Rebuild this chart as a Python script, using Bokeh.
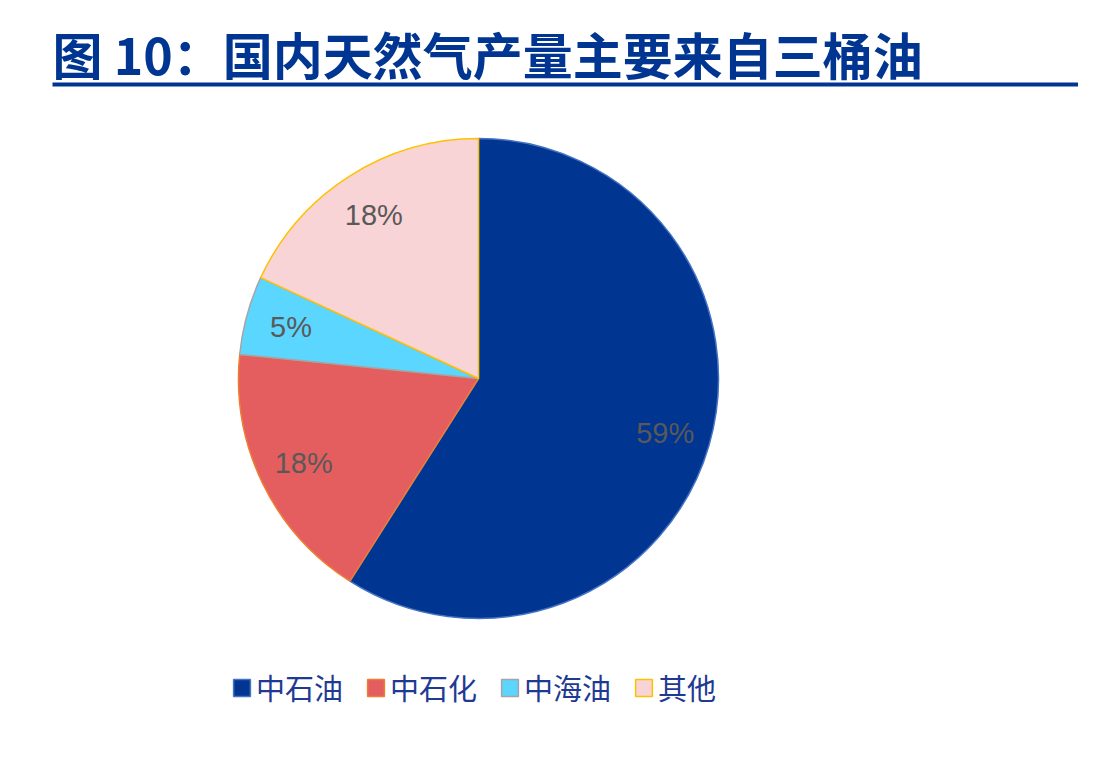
import numpy as np
from bokeh.plotting import figure
from bokeh.models import ColumnDataSource, Legend, LegendItem, Range1d
from bokeh.core.properties import value
from bokeh.embed import file_html
from bokeh.resources import INLINE

# data
companies = ["中石油", "中石化", "中海油", "其他"]
shares = [59.0, 17.6, 5.3, 18.1]
pct_labels = ["59%", "18%", "5%", "18%"]
fill_colors = ["#003591", "#E45E5F", "#5BD6FF", "#F9D4D6"]
line_colors = ["#4472C4", "#ED7D31", "#A5A5A5", "#FFC000"]
title = "图 10：国内天然气产量主要来自三桶油"

W, H = 1078, 764
p = figure(width=W, height=H, x_range=Range1d(0, W), y_range=Range1d(0, H),
           x_axis_type=None, y_axis_type=None, min_border=0,
           toolbar_location=None, output_backend="svg")
p.outline_line_color = None

# pie geometry (starts at 12 o'clock, clockwise)
cx, cy, r = 478, 386, 240
frac = np.array(shares) / sum(shares)
ends = np.cumsum(frac)
starts = ends - frac
a0 = np.pi / 2 - 2 * np.pi * starts
a1 = np.pi / 2 - 2 * np.pi * ends
mid = (a0 + a1) / 2

src = ColumnDataSource(dict(
    name=companies, start=a0, end=a1, fill=fill_colors, line=line_colors,
    label=pct_labels,
    lx=cx + 0.81 * r * np.cos(mid), ly=cy + 0.81 * r * np.sin(mid),
))

wedges = p.wedge(x=cx, y=cy, radius=r, start_angle="start", end_angle="end",
                 direction="clock", fill_color="fill", line_color="line",
                 line_width=1.5, source=src)

p.text(x="lx", y="ly", text="label", source=src, text_align="center",
       text_baseline="middle", text_font=value("Liberation Sans"),
       text_font_size="29px", text_color="#595959")

# title and rule
p.text(x=[52], y=[712], text=[title], text_font=value("Noto Sans CJK SC"),
       text_font_style="bold", text_font_size="50px", text_color="#003591",
       text_baseline="middle")
p.segment(x0=[52], y0=[680], x1=[W], y1=[680], line_width=4, line_color="#003591")

legend = Legend(
    items=[LegendItem(label=c, renderers=[wedges], index=i) for i, c in enumerate(companies)],
    orientation="horizontal", location=(231, 56),
    glyph_width=21, glyph_height=21, label_standoff=4, spacing=22,
    padding=0, margin=0, border_line_color=None, background_fill_alpha=0,
    label_text_font="Noto Sans CJK SC", label_text_font_size="29px",
    label_text_color="#1F3A93",
)
p.add_layout(legend)

open("out.html", "w").write(file_html(p, INLINE))
